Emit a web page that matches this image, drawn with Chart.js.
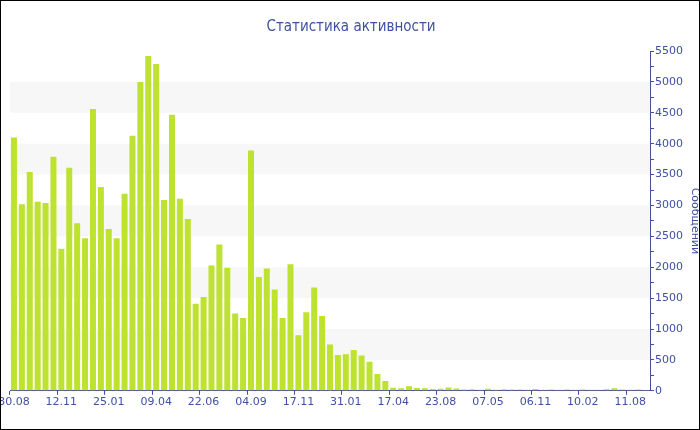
<!DOCTYPE html>
<html>
<head>
<meta charset="utf-8">
<script src="https://cdn.jsdelivr.net/npm/chart.js@4/dist/chart.umd.min.js"></script>
<style>
  html, body { margin: 0; padding: 0; background: #fff; }
  #wrap { width: 700px; height: 430px; box-sizing: border-box; border: 1px solid #000; }
</style>
</head>
<body>
<div id="wrap"><canvas id="activityChart" width="698" height="428"></canvas></div>
<script>
// one tick label every 6 bars
var tickLabels = ['30.08', '12.11', '25.01', '09.04', '22.06', '04.09', '17.11',
    '31.01', '17.04', '23.08', '07.05', '06.11', '10.02', '11.08'];

var messages = [4100, 3020, 3540, 3060, 3040, 3790, 2300, 3610, 2710, 2470,
    4560, 3300, 2620, 2470, 3190, 4130, 5000, 5420, 5290, 3090,
    4470, 3110, 2780, 1410, 1520, 2030, 2370, 1990, 1250, 1180,
    3890, 1840, 1980, 1640, 1180, 2050, 900, 1270, 1670, 1210,
    750, 580, 590, 660, 570, 470, 270, 160, 48, 40,
    75, 45, 43, 30, 32, 54, 38, 22, 27, 16,
    32, 16, 27, 22, 20, 18, 30, 18, 20, 16,
    20, 18, 22, 16, 18, 25, 40, 20, 18, 20, 14];

var categories = messages.map(function (v, i) {
    return i % 6 === 0 ? tickLabels[i / 6] : '';
});

var blue = '#3f51a0';

// light bands every other 500 step
var bandPlugin = {
    id: 'bands',
    beforeDraw: function (chart) {
        var ctx = chart.ctx;
        var area = chart.chartArea;
        var y = chart.scales.y;
        ctx.save();
        ctx.fillStyle = '#f7f7f7';
        for (var v = 500; v < 5500; v += 1000) {
            var top = y.getPixelForValue(v + 500);
            var bottom = y.getPixelForValue(v);
            ctx.fillRect(area.left, top, area.right - area.left, bottom - top);
        }
        ctx.restore();
    }
};

var data = {
    labels: categories,
    datasets: [{
        label: 'Сообщений',
        data: messages,
        backgroundColor: '#bde22f',
        borderWidth: 0,
        categoryPercentage: 1.0,
        barPercentage: 0.76,
    }]
};

var config = {
    type: 'bar',
    data: data,
    plugins: [bandPlugin],
    options: {
        responsive: false,
        animation: false,
        layout: { padding: { left: 0, right: -2, top: 0, bottom: 19 } },
        plugins: {
            legend: { display: false },
            tooltip: { enabled: false },
            title: {
                display: true,
                text: 'Статистика активности',
                color: blue,
                font: { family: 'DejaVu Sans Condensed', size: 15, weight: 'normal' },
                padding: { top: 17, bottom: 15 }
            }
        },
        scales: {
            x: {
                // fixed left gap; the first label hangs off the edge like the original
                afterFit: function (scale) { scale.paddingLeft = 9; },
                grid: {
                    drawOnChartArea: false,
                    tickLength: 4,
                    tickColor: function (c) { return c.index % 6 === 0 ? blue : 'transparent'; }
                },
                border: { color: blue },
                ticks: {
                    autoSkip: false,
                    maxRotation: 0,
                    minRotation: 0,
                    padding: 1,
                    color: blue,
                    font: { family: 'DejaVu Sans', size: 11 }
                }
            },
            y: {
                position: 'right',
                min: 0,
                max: 5500,
                grid: {
                    drawOnChartArea: false,
                    tickLength: 4,
                    tickColor: blue
                },
                border: { color: blue },
                ticks: {
                    stepSize: 250,
                    autoSkip: false,
                    padding: 1,
                    color: blue,
                    font: { family: 'DejaVu Sans', size: 11 },
                    callback: function (v) { return v % 500 === 0 ? v : ''; }
                },
                title: {
                    display: true,
                    text: 'Сообщений',
                    color: blue,
                    font: { family: 'DejaVu Sans', size: 11, lineHeight: 1 },
                    padding: { top: 1, bottom: 5 }
                }
            }
        }
    }
};

var activityChart = new Chart(document.getElementById('activityChart'), config);
</script>
</body>
</html>
